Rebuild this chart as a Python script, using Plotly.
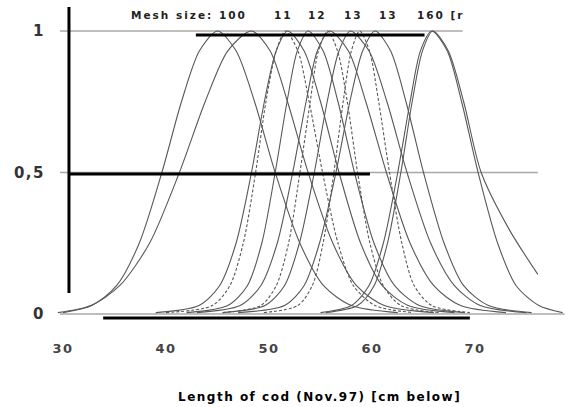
import plotly.graph_objects as go

# ---- data (fish length in cm, selectivity 0..1) ----
LEVELS = [0.005, 0.03, 0.1, 0.25, 0.5, 0.75, 0.93, 1.0, 0.93, 0.75, 0.5, 0.25, 0.1, 0.03, 0.005]

c1_x = [30.0, 32.8, 35.2, 37.4, 39.6, 41.5, 43.25, 45.0, 46.8, 48.6, 50.6, 53.0, 55.3, 58.0, 62.5]
c2_x = [29.5, 32.7, 35.5, 38.4, 41.3, 43.8, 46.0, 48.3, 50.1, 51.8, 53.8, 56.2, 58.5, 61.2, 66.0]
c3_x = [40.0, 44.5, 46.2, 47.5, 48.7, 49.7, 50.7, 51.6, 52.8, 53.9, 55.2, 56.7, 58.2, 60.3, 64.0]
c4_x = [39.0, 43.2, 45.2, 46.8, 48.3, 49.55, 50.7, 51.8, 53.4, 55.0, 56.8, 58.9, 61.0, 63.5, 68.0]
c5_x = [42.0, 46.0, 47.9, 49.3, 50.6, 51.75, 52.75, 53.8, 55.25, 56.7, 58.3, 60.2, 62.2, 64.6, 69.0]
c6_x = [45.5, 49.2, 50.7, 51.9, 53.0, 54.0, 54.8, 55.7, 56.65, 57.6, 58.6, 59.8, 61.1, 62.8, 66.5]
c7_x = [43.0, 47.2, 49.2, 50.8, 52.3, 53.6, 54.7, 55.9, 57.7, 59.4, 61.4, 63.7, 66.0, 68.6, 73.0]
c8_x = [45.5, 49.6, 51.5, 52.95, 54.4, 55.65, 56.8, 57.9, 59.7, 61.45, 63.4, 65.7, 68.0, 70.5, 75.0]
c9_x = [49.5, 52.8, 54.2, 55.25, 56.3, 57.2, 58.0, 58.8, 59.75, 60.65, 61.7, 62.9, 64.1, 65.8, 69.5]
c10_x = [47.0, 51.5, 53.4, 54.9, 56.5, 57.85, 59.1, 60.3, 61.8, 63.3, 65.0, 67.0, 68.9, 71.3, 75.5]
c11_x = [55.0, 58.0, 59.7, 61.1, 62.5, 63.7, 64.7, 65.8, 67.3, 68.7, 70.3, 72.2, 74.0, 76.2, 78.5]
c12_x = [55.5, 58.6, 60.2, 61.5, 62.8, 63.9, 64.9, 65.9, 67.4, 68.9, 70.6, 73.3, 76.1]
c12_y = [0.005, 0.03, 0.1, 0.25, 0.5, 0.75, 0.93, 1.0, 0.93, 0.75, 0.5, 0.3, 0.14]

SOLID = [c1_x, c2_x, c4_x, c5_x, c7_x, c8_x, c10_x, c11_x]
DASHED = [c3_x, c6_x, c9_x]

X_TICKS = [30, 40, 50, 60, 70]
X_TICK_TEXT = ["30", "40", "50", "60", "70"]
Y_TICKS = [0, 0.5, 1]
Y_TICK_TEXT = ["0", "0,5", "1"]
MESH_LABELS = ["Mesh size: 100", "11", "12", "13", "13", "160 [r"]
MESH_LABEL_POS = [42.2, 51.4, 54.7, 58.2, 61.6, 66.7]
X_TITLE = "Length of cod (Nov.97) [cm below]"

CURVE = "#585858"
GREY = "#a8a8a8"


def spaced(t, px):
    return f'<span style="letter-spacing:{px}px">{t}</span>'


fig = go.Figure()
for xs in SOLID:
    fig.add_trace(go.Scatter(x=xs, y=LEVELS, mode="lines", line=dict(color=CURVE, width=1.1, shape="spline", smoothing=0.8), hoverinfo="skip"))
for xs in DASHED:
    fig.add_trace(go.Scatter(x=xs, y=LEVELS, mode="lines", line=dict(color=CURVE, width=1.1, dash="3px,2px", shape="spline", smoothing=0.8), hoverinfo="skip"))
fig.add_trace(go.Scatter(x=c12_x, y=c12_y, mode="lines", line=dict(color=CURVE, width=1.1, shape="spline", smoothing=0.8), hoverinfo="skip"))

# grey reference lines of the scanned figure
for y0, x1 in [(1.0, 68.8), (0.5, 76.1), (0.0, 78.7)]:
    fig.add_shape(type="line", x0=29.7, x1=x1, y0=y0, y1=y0, line=dict(color=GREY, width=1.5), layer="below")

# thick black overlay strokes
blk = dict(color="black", width=3)
fig.add_shape(type="line", x0=30.58, x1=30.58, y0=0.074, y1=1.085, line=blk)
fig.add_shape(type="line", x0=30.58, x1=59.8, y0=0.495, y1=0.495, line=blk)
fig.add_shape(type="line", x0=42.9, x1=65.1, y0=0.986, y1=0.986, line=blk)
fig.add_shape(type="line", x0=33.9, x1=69.5, y0=-0.014, y1=-0.014, line=blk)

for txt, xp in zip(MESH_LABELS, MESH_LABEL_POS):
    fig.add_annotation(x=xp, y=1.057, xref="x", yref="y", text=spaced(txt, 2), showarrow=False,
                       font=dict(family="DejaVu Sans", size=10.5, color="#222", weight="bold"))

fig.add_annotation(x=0.522, y=-0.206, xref="paper", yref="paper", text=spaced(X_TITLE, 1.5), showarrow=False,
                   yanchor="middle", font=dict(family="DejaVu Sans", size=12, color="black", weight="bold"))

fig.update_layout(
    width=565, height=407, margin=dict(l=52, r=0, t=5, b=77),
    paper_bgcolor="white", plot_bgcolor="white", showlegend=False,
    xaxis=dict(range=[28.932, 78.738], tickvals=X_TICKS, ticktext=[spaced(t, 1.5) for t in X_TICK_TEXT],
               showgrid=False, zeroline=False, showline=False,
               ticks="", ticklabelstandoff=9, fixedrange=True,
               tickfont=dict(family="DejaVu Sans", size=13, color="#444", weight="bold")),
    yaxis=dict(range=[-0.0565, 1.0919], tickvals=Y_TICKS, ticktext=[spaced(t, 1.5) for t in Y_TICK_TEXT],
               showgrid=False, zeroline=False,
               showline=False, ticks="", ticklabelstandoff=6, fixedrange=True,
               tickfont=dict(family="DejaVu Sans", size=15, color="#333", weight="bold")),
)
fig.write_html("out.html", config={"displayModeBar": False},
               post_script="document.body.style.margin='0';")
